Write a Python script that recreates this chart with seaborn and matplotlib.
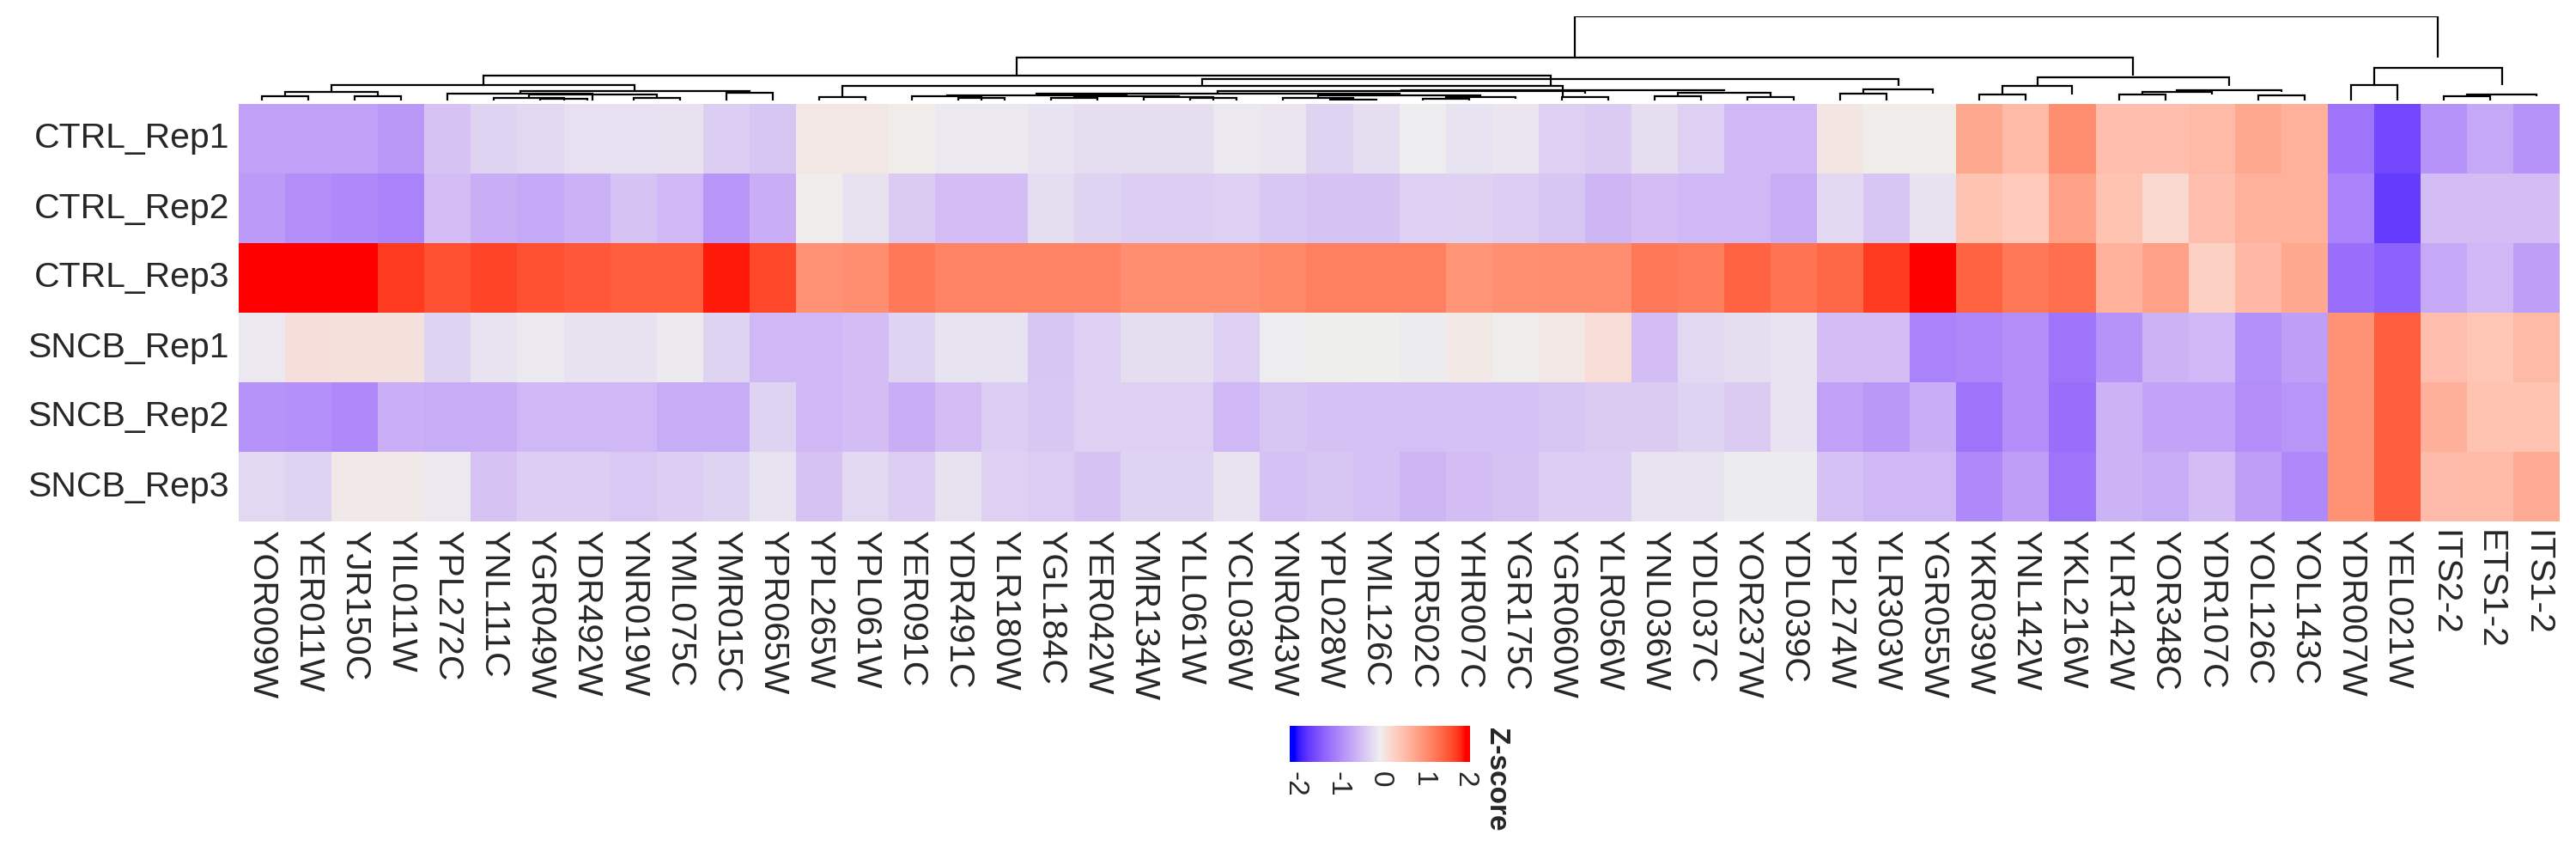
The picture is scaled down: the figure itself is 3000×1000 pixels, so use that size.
import numpy as np
import pandas as pd
import matplotlib
matplotlib.use('Agg')
import matplotlib.pyplot as plt
import seaborn as sns
from matplotlib.colors import ListedColormap, to_rgb

# columns in dendrogram order
genes = ["YOR009W", "YER011W", "YJR150C", "YIL011W", "YPL272C", "YNL111C", "YGR049W",
         "YDR492W", "YNR019W", "YML075C", "YMR015C", "YPR065W", "YPL265W", "YPL061W",
         "YER091C", "YDR491C", "YLR180W", "YGL184C", "YER042W", "YMR134W", "YLL061W",
         "YCL036W", "YNR043W", "YPL028W", "YML126C", "YDR502C", "YHR007C", "YGR175C",
         "YGR060W", "YLR056W", "YNL036W", "YDL037C", "YOR237W", "YDL039C", "YPL274W",
         "YLR303W", "YGR055W", "YKR039W", "YNL142W", "YKL216W", "YLR142W", "YOR348C",
         "YDR107C", "YOL126C", "YOL143C", "YDR007W", "YEL021W", "ITS2-2", "ETS1-2", "ITS1-2"]
samples = ["CTRL_Rep1", "CTRL_Rep2", "CTRL_Rep3", "SNCB_Rep1", "SNCB_Rep2", "SNCB_Rep3"]

ctrl_rep1 = [-0.72, -0.72, -0.72, -0.8, -0.4, -0.25, -0.2, -0.13, -0.13, -0.12, -0.3, -0.38,
             0.08, 0.08, 0.03, -0.05, -0.05, -0.1, -0.15, -0.15, -0.15, -0.05, -0.08, -0.25,
             -0.15, -0.02, -0.1, -0.08, -0.28, -0.33, -0.15, -0.28,
             -0.5, -0.5, 0.1, 0.03, 0.03, 0.8, 0.6, 1.1, 0.55, 0.55, 0.6, 0.8, 0.7,
             -1.15, -1.55, -0.85, -0.65, -0.85]
ctrl_rep2 = [-0.78, -0.9, -0.95, -1.0, -0.45, -0.6, -0.65, -0.57, -0.4, -0.5, -0.82, -0.6,
             0.02, -0.12, -0.33, -0.45, -0.45, -0.15, -0.25, -0.3, -0.3, -0.28, -0.37, -0.4,
             -0.4, -0.28, -0.27, -0.3, -0.38, -0.52, -0.45, -0.5,
             -0.5, -0.62, -0.2, -0.38, -0.12, 0.5, 0.42, 0.88, 0.5, 0.25, 0.55, 0.7, 0.7,
             -1.0, -1.65, -0.45, -0.45, -0.45]
ctrl_rep3 = [2.1, 2.1, 2.1, 1.8, 1.65, 1.75, 1.65, 1.6, 1.55, 1.55, 1.95, 1.72,
             1.05, 1.1, 1.3, 1.2, 1.2, 1.2, 1.2, 1.08, 1.08, 1.08, 1.15, 1.22,
             1.22, 1.22, 1.02, 1.07, 1.1, 1.1, 1.3, 1.25,
             1.5, 1.35, 1.45, 1.8, 2.05, 1.5, 1.3, 1.4, 0.7, 0.88, 0.35, 0.62, 0.8,
             -1.2, -1.32, -0.65, -0.5, -0.75]
sncb_rep1 = [-0.05, 0.17, 0.15, 0.15, -0.25, -0.1, -0.05, -0.12, -0.12, -0.04, -0.25, -0.5,
             -0.5, -0.45, -0.25, -0.1, -0.1, -0.38, -0.28, -0.15, -0.15, -0.28, -0.02, 0.0,
             0.0, -0.03, 0.07, 0.01, 0.08, 0.2, -0.45, -0.2,
             -0.15, -0.1, -0.45, -0.45, -1.0, -0.97, -0.9, -1.15, -0.85, -0.55, -0.5, -0.88, -0.75,
             1.05, 1.55, 0.55, 0.47, 0.6]
sncb_rep2 = [-0.85, -0.88, -0.95, -0.58, -0.62, -0.6, -0.5, -0.5, -0.5, -0.62, -0.62, -0.25,
             -0.5, -0.45, -0.6, -0.45, -0.3, -0.37, -0.28, -0.28, -0.28, -0.5, -0.38, -0.42,
             -0.43, -0.43, -0.42, -0.42, -0.38, -0.33, -0.33, -0.25,
             -0.33, -0.1, -0.72, -0.8, -0.6, -1.15, -0.9, -1.2, -0.55, -0.7, -0.7, -0.9, -0.82,
             1.05, 1.55, 0.72, 0.5, 0.5]
sncb_rep3 = [-0.2, -0.25, 0.05, 0.05, -0.05, -0.4, -0.3, -0.3, -0.35, -0.3, -0.25, -0.1,
             -0.4, -0.2, -0.3, -0.12, -0.28, -0.32, -0.4, -0.25, -0.25, -0.1, -0.42, -0.38,
             -0.42, -0.52, -0.45, -0.4, -0.3, -0.3, -0.1, -0.1,
             -0.03, -0.03, -0.42, -0.5, -0.5, -0.95, -0.75, -1.15, -0.55, -0.62, -0.45, -0.75, -0.95,
             1.05, 1.55, 0.58, 0.6, 0.78]

# column dendrogram, linkage style: ids < 50 are leaves, id 50+k is merge k
merges = [
    (0, 1, 5), (2, 3, 5), (50, 51, 10),
    (6, 7, 1.7), (5, 53, 3), (8, 9, 3), (54, 55, 6.6), (4, 56, 8), (10, 11, 9.3), (57, 58, 11),
    (52, 59, 18),
    (12, 13, 4),
    (15, 16, 2.7), (14, 62, 5.3),
    (17, 18, 2.7), (20, 21, 3), (19, 65, 4), (64, 66, 5),
    (63, 67, 6.3),
    (23, 24, 1.3), (22, 69, 3),
    (25, 26, 2.3), (71, 27, 4),
    (70, 72, 6),
    (68, 73, 8),
    (28, 29, 4),
    (74, 75, 11),
    (30, 31, 5.3), (32, 33, 3.7), (77, 78, 9),
    (76, 79, 12.3),
    (61, 80, 16.6),
    (34, 35, 8), (82, 36, 13.3),
    (81, 83, 25.6),
    (60, 84, 29),
    (37, 38, 7), (86, 39, 16.6), (40, 41, 6.6), (88, 42, 10), (43, 44, 5.6), (89, 90, 11.6),
    (87, 91, 27),
    (85, 92, 50),
    (45, 46, 18), (47, 48, 5), (95, 49, 7), (94, 96, 38),
    (93, 97, 98),
]

legend_ticks = [-2, -1, 0, 1, 2]
legend_labels = ["-2", "-1", "0", "1", "2"]

df = pd.DataFrame([ctrl_rep1, ctrl_rep2, ctrl_rep3, sncb_rep1, sncb_rep2, sncb_rep3],
                  index=samples, columns=genes)


# blue - white - red ramp interpolated in LAB space
def srgb_to_lab(c):
    c = np.asarray(c, dtype=float)
    lin = np.where(c <= 0.04045, c / 12.92, ((c + 0.055) / 1.055) ** 2.4)
    m = np.array([[0.4124, 0.3576, 0.1805], [0.2126, 0.7152, 0.0722], [0.0193, 0.1192, 0.9505]])
    xyz = lin @ m.T / np.array([0.95047, 1.0, 1.08883])
    f = np.where(xyz > 0.008856, np.cbrt(xyz), 7.787 * xyz + 16 / 116)
    return np.stack([116 * f[..., 1] - 16, 500 * (f[..., 0] - f[..., 1]),
                     200 * (f[..., 1] - f[..., 2])], axis=-1)


def lab_to_srgb(lab):
    fy = (lab[..., 0] + 16) / 116
    fx = fy + lab[..., 1] / 500
    fz = fy - lab[..., 2] / 200
    f = np.stack([fx, fy, fz], axis=-1)
    xyz = np.where(f > 0.2069, f ** 3, (f - 16 / 116) / 7.787) * np.array([0.95047, 1.0, 1.08883])
    mi = np.array([[3.2406, -1.5372, -0.4986], [-0.9689, 1.8758, 0.0415], [0.0557, -0.2040, 1.0570]])
    lin = np.clip(xyz @ mi.T, 0, 1)
    c = np.where(lin <= 0.0031308, 12.92 * lin, 1.055 * lin ** (1 / 2.4) - 0.055)
    return np.clip(c, 0, 1)


vmin, vmax = -2.12, 2.12
breaks = [-2, 0, 2]
anchor_lab = srgb_to_lab([to_rgb('#0000FF'), to_rgb('#EEEEEE'), to_rgb('#FF0000')])
grid = np.clip(np.linspace(vmin, vmax, 512), -2, 2)
lab = np.stack([np.interp(grid, breaks, anchor_lab[:, k]) for k in range(3)], axis=-1)
cmap = ListedColormap(lab_to_srgb(lab))

sns.set_theme(style='white')
plt.rcParams['font.family'] = ['Liberation Sans', 'DejaVu Sans']

fig = plt.figure(figsize=(30, 10), dpi=100)
ax = fig.add_axes([0.0927, 0.393, 0.901, 0.486])
dax = fig.add_axes([0.0927, 0.883, 0.901, 0.098])
cax = fig.add_axes([0.5007, 0.113, 0.07, 0.042])

sns.heatmap(df, ax=ax, cmap=cmap, vmin=vmin, vmax=vmax, cbar_ax=cax,
            cbar_kws={'orientation': 'horizontal', 'ticks': legend_ticks},
            xticklabels=True, yticklabels=True, linewidths=0)
ax.tick_params(axis='x', length=0, pad=7, labelsize=29.5, labelrotation=-90)
ax.tick_params(axis='y', length=0, pad=8, labelsize=29.5, labelrotation=0)
ax.set_xlabel('')
ax.set_ylabel('')

cb = ax.collections[0].colorbar
cb.outline.set_visible(False)
cb.ax.set_xticks(legend_ticks)
cb.ax.set_xticklabels(legend_labels)
cb.ax.tick_params(axis='x', direction='in', length=5, width=1, color='white',
                  top=True, bottom=True, labelsize=24, labelrotation=-90, pad=8)
fig.text(0.5757, 0.153, 'Z-score', rotation=-90, ha='left', va='top',
         fontsize=24, fontweight='bold')

# dendrogram
n_leaves = len(genes)


def draw_node(node):
    if node < n_leaves:
        return node + 0.5, 0.0
    left, right, h = merges[node - n_leaves]
    xl, hl = draw_node(left)
    xr, hr = draw_node(right)
    dax.plot([xl, xl, xr, xr], [hl, h, h, hl], color='black', lw=1.6,
             solid_capstyle='butt', solid_joinstyle='miter')
    return (xl + xr) / 2, h


draw_node(n_leaves + len(merges) - 1)
dax.set_xlim(0, n_leaves)
dax.set_ylim(0, 98.5)
dax.axis('off')

fig.savefig('out.png', dpi=100)
